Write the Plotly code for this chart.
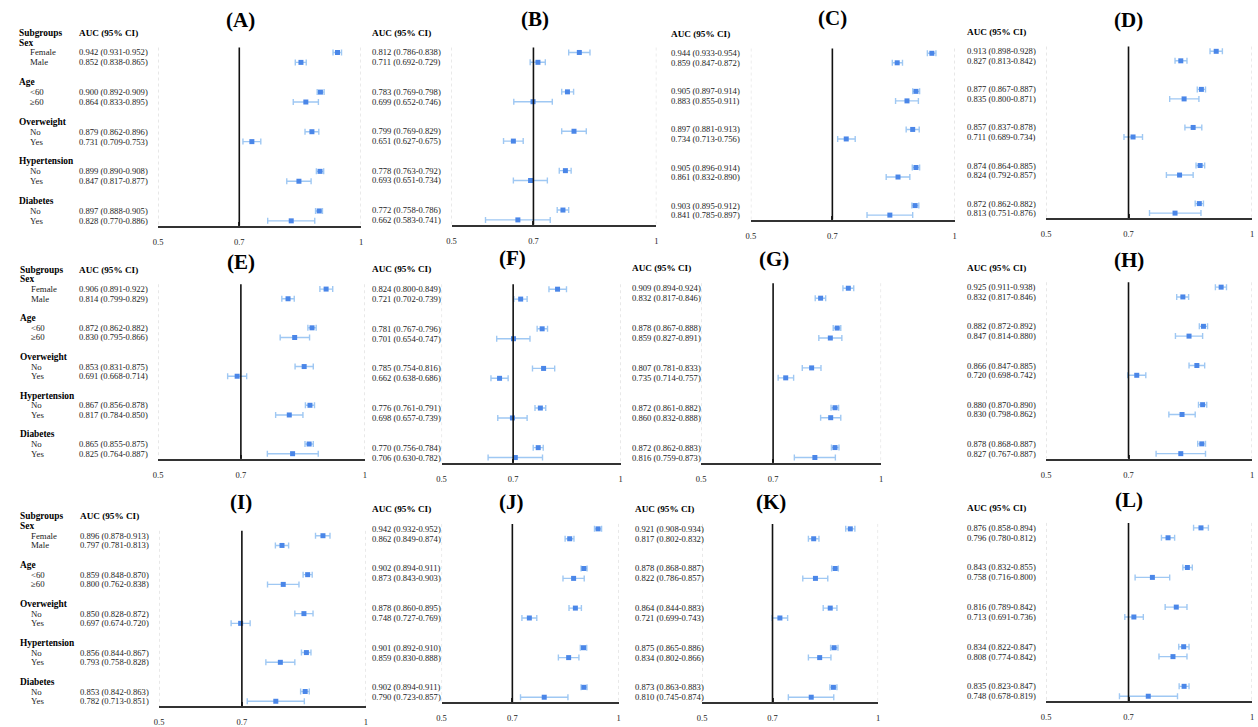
import plotly.graph_objects as go

W, H = 1258, 727

# ---------------- data ----------------
groups = ["Sex", "Age", "Overweight", "Hypertension", "Diabetes"]
levels = [["Female", "Male"], ["<60", "≥60"], ["No", "Yes"], ["No", "Yes"], ["No", "Yes"]]
panel_names = ["A", "B", "C", "D", "E", "F", "G", "H", "I", "J", "K", "L"]
tick_vals = [0.5, 0.7, 1.0]
tick_text = ["0.5", "0.7", "1"]
ref_value = 0.7

A_auc = [0.942, 0.852, 0.900, 0.864, 0.879, 0.731, 0.899, 0.847, 0.897, 0.828]
A_lo = [0.931, 0.838, 0.892, 0.833, 0.862, 0.709, 0.890, 0.817, 0.888, 0.770]
A_hi = [0.952, 0.865, 0.909, 0.895, 0.896, 0.753, 0.908, 0.877, 0.905, 0.886]

B_auc = [0.812, 0.711, 0.783, 0.699, 0.799, 0.651, 0.778, 0.693, 0.772, 0.662]
B_lo = [0.786, 0.692, 0.769, 0.652, 0.769, 0.627, 0.763, 0.651, 0.758, 0.583]
B_hi = [0.838, 0.729, 0.798, 0.746, 0.829, 0.675, 0.792, 0.734, 0.786, 0.741]

C_auc = [0.944, 0.859, 0.905, 0.883, 0.897, 0.734, 0.905, 0.861, 0.903, 0.841]
C_lo = [0.933, 0.847, 0.897, 0.855, 0.881, 0.713, 0.896, 0.832, 0.895, 0.785]
C_hi = [0.954, 0.872, 0.914, 0.911, 0.913, 0.756, 0.914, 0.890, 0.912, 0.897]

D_auc = [0.913, 0.827, 0.877, 0.835, 0.857, 0.711, 0.874, 0.824, 0.872, 0.813]
D_lo = [0.898, 0.813, 0.867, 0.800, 0.837, 0.689, 0.864, 0.792, 0.862, 0.751]
D_hi = [0.928, 0.842, 0.887, 0.871, 0.878, 0.734, 0.885, 0.857, 0.882, 0.876]

E_auc = [0.906, 0.814, 0.872, 0.830, 0.853, 0.691, 0.867, 0.817, 0.865, 0.825]
E_lo = [0.891, 0.799, 0.862, 0.795, 0.831, 0.668, 0.856, 0.784, 0.855, 0.764]
E_hi = [0.922, 0.829, 0.882, 0.866, 0.875, 0.714, 0.878, 0.850, 0.875, 0.887]

F_auc = [0.824, 0.721, 0.781, 0.701, 0.785, 0.662, 0.776, 0.698, 0.770, 0.706]
F_lo = [0.800, 0.702, 0.767, 0.654, 0.754, 0.638, 0.761, 0.657, 0.756, 0.630]
F_hi = [0.849, 0.739, 0.796, 0.747, 0.816, 0.686, 0.791, 0.739, 0.784, 0.782]

G_auc = [0.909, 0.832, 0.878, 0.859, 0.807, 0.735, 0.872, 0.860, 0.872, 0.816]
G_lo = [0.894, 0.817, 0.867, 0.827, 0.781, 0.714, 0.861, 0.832, 0.862, 0.759]
G_hi = [0.924, 0.846, 0.888, 0.891, 0.833, 0.757, 0.882, 0.888, 0.883, 0.873]

H_auc = [0.925, 0.832, 0.882, 0.847, 0.866, 0.720, 0.880, 0.830, 0.878, 0.827]
H_lo = [0.911, 0.817, 0.872, 0.814, 0.847, 0.698, 0.870, 0.798, 0.868, 0.767]
H_hi = [0.938, 0.846, 0.892, 0.880, 0.885, 0.742, 0.890, 0.862, 0.887, 0.887]

I_auc = [0.896, 0.797, 0.859, 0.800, 0.850, 0.697, 0.856, 0.793, 0.853, 0.782]
I_lo = [0.878, 0.781, 0.848, 0.762, 0.828, 0.674, 0.844, 0.758, 0.842, 0.713]
I_hi = [0.913, 0.813, 0.870, 0.838, 0.872, 0.720, 0.867, 0.828, 0.863, 0.851]

J_auc = [0.942, 0.862, 0.902, 0.873, 0.878, 0.748, 0.901, 0.859, 0.902, 0.790]
J_lo = [0.932, 0.849, 0.894, 0.843, 0.860, 0.727, 0.892, 0.830, 0.894, 0.723]
J_hi = [0.952, 0.874, 0.911, 0.903, 0.895, 0.769, 0.910, 0.888, 0.911, 0.857]

K_auc = [0.921, 0.817, 0.878, 0.822, 0.864, 0.721, 0.875, 0.834, 0.873, 0.810]
K_lo = [0.908, 0.802, 0.868, 0.786, 0.844, 0.699, 0.865, 0.802, 0.863, 0.745]
K_hi = [0.934, 0.832, 0.887, 0.857, 0.883, 0.743, 0.886, 0.866, 0.883, 0.874]

L_auc = [0.876, 0.796, 0.843, 0.758, 0.816, 0.713, 0.834, 0.808, 0.835, 0.748]
L_lo = [0.858, 0.780, 0.832, 0.716, 0.789, 0.691, 0.822, 0.774, 0.823, 0.678]
L_hi = [0.894, 0.812, 0.855, 0.800, 0.842, 0.736, 0.847, 0.842, 0.847, 0.819]

series = {
    "A": (A_auc, A_lo, A_hi), "B": (B_auc, B_lo, B_hi), "C": (C_auc, C_lo, C_hi),
    "D": (D_auc, D_lo, D_hi), "E": (E_auc, E_lo, E_hi), "F": (F_auc, F_lo, F_hi),
    "G": (G_auc, G_lo, G_hi), "H": (H_auc, H_lo, H_hi), "I": (I_auc, I_lo, I_hi),
    "J": (J_auc, J_lo, J_hi), "K": (K_auc, K_lo, K_hi), "L": (L_auc, L_lo, L_hi),
}

# ---------------- layout (pixel geometry of each panel) ----------------
# x at 0.5, x at 1, top px, axis px, title x, title y, header x, labels?
geom = {
    "A": (154, 358, 48, 228, 237, 20, 72, True),
    "B": (449, 655, 48, 227, 533, 19, 367, False),
    "C": (750, 955, 49, 222, 832, 18, 668, False),
    "D": (1047, 1254, 47, 220, 1130, 20, 965, False),
    "E": (154, 362, 287, 463, 237, 265, 72, True),
    "F": (439, 619, 287, 467, 510, 261, 367, False),
    "G": (700, 881, 286, 467, 773, 262, 628, False),
    "H": (1047, 1254, 285, 463, 1130, 263, 965, False),
    "I": (155, 363, 536, 713, 237, 507, 73, True),
    "J": (439, 617, 529, 709, 509, 507, 367, False),
    "K": (701, 878, 529, 709, 770, 507, 632, False),
    "L": (1047, 1254, 528, 708, 1130, 505, 965, False),
}

SERIF = "Liberation Serif, Times New Roman, serif"
MARK = "#4a86e8"
ERR = "#9fc8f3"
TXT = "#1a1a1a"

# row positions in axis units (row pitch = 1, gap between groups)
rows = []
for g in range(len(groups)):
    for s in range(2):
        rows.append(0.5 + 4 * g + s)
YMAX = 18
YMIN = -2.5  # room for the header lines above the first row

fig = go.Figure()
layout = dict(width=W, height=H, margin=dict(l=0, r=0, t=0, b=0),
              paper_bgcolor="white", plot_bgcolor="white", showlegend=False,
              font=dict(family=SERIF, color=TXT))
annotations = []
shapes = []

for i, name in enumerate(panel_names):
    n = i + 1
    xa = "x" if n == 1 else f"x{n}"
    ya = "y" if n == 1 else f"y{n}"
    xk = "xaxis" if n == 1 else f"xaxis{n}"
    yk = "yaxis" if n == 1 else f"yaxis{n}"
    x05, x1, top, axis, tx, ty, hx, labels = geom[name]
    auc, lo, hi = series[name]
    unit = (axis - top) / YMAX
    dom_top = top + YMIN * unit

    layout[xk] = dict(domain=[x05 / W, x1 / W], range=[0.5, 1.0], anchor=ya,
                      showgrid=False, zeroline=False, showline=True, linewidth=2,
                      linecolor="#333333", ticks="inside", ticklen=4, tickwidth=1.5,
                      tickcolor="#333333", tickvals=tick_vals, ticktext=tick_text,
                      tickfont=dict(family=SERIF, size=8.5, color=TXT),
                      ticklabelstandoff=7, fixedrange=True)
    layout[yk] = dict(domain=[(H - axis) / H, (H - dom_top) / H], range=[YMAX, YMIN],
                      anchor=xa, visible=False, fixedrange=True)

    # dotted guide lines at the axis ends
    for v in (tick_vals[0], tick_vals[-1]):
        shapes.append(dict(type="line", xref=xa, yref=ya, x0=v, x1=v,
                           y0=0, y1=YMAX, line=dict(color="#d4d4d4", width=1, dash="dot"),
                           layer="below"))
    # reference line
    shapes.append(dict(type="line", xref=xa, yref=ya, x0=ref_value,
                       x1=ref_value, y0=0, y1=YMAX, line=dict(color="#111111", width=1.6)))

    fig.add_trace(go.Scatter(
        x=auc, y=rows, xaxis=xa, yaxis=ya, mode="markers",
        marker=dict(symbol="square", size=5, color=MARK, line=dict(width=0)),
        error_x=dict(type="data", symmetric=False,
                     array=[h - a for a, h in zip(auc, hi)],
                     arrayminus=[a - l for a, l in zip(auc, lo)],
                     color=ERR, thickness=1.4, width=3),
        cliponaxis=False, hoverinfo="skip"))

    # panel title
    annotations.append(dict(text=f"<b>({name})</b>", xref="paper", yref="paper",
                            x=tx / W, y=1 - ty / H, xanchor="center", yanchor="middle",
                            showarrow=False, font=dict(family=SERIF, size=21, color="#000")))
    # header
    annotations.append(dict(text="<b>AUC (95% CI)</b>", xref="paper", yref=ya,
                            x=hx / W, y=rows[0] - 2, xanchor="left", yanchor="middle",
                            showarrow=False, font=dict(family=SERIF, size=9.2, color="#000")))
    # values
    for r, a, l, h in zip(rows, auc, lo, hi):
        annotations.append(dict(text=f"{a:.3f} ({l:.3f}-{h:.3f})", xref="paper", yref=ya,
                                x=hx / W, y=r, xanchor="left", yanchor="middle",
                                showarrow=False, font=dict(family=SERIF, size=8.6, color=TXT)))
    if labels:
        lx = 12 if name == "A" else 13
        annotations.append(dict(text="<b>Subgroups</b>", xref="paper", yref=ya,
                                x=lx / W, y=rows[0] - 2, xanchor="left", yanchor="middle",
                                showarrow=False, font=dict(family=SERIF, size=9.4, color="#000")))
        for g, grp in enumerate(groups):
            annotations.append(dict(text=f"<b>{grp}</b>", xref="paper", yref=ya,
                                    x=lx / W, y=rows[2 * g] - 1, xanchor="left",
                                    yanchor="middle", showarrow=False,
                                    font=dict(family=SERIF, size=9.4, color="#000")))
            for s in range(2):
                annotations.append(dict(text=levels[g][s], xref="paper", yref=ya,
                                        x=(lx + 11) / W, y=rows[2 * g + s],
                                        xanchor="left", yanchor="middle", showarrow=False,
                                        font=dict(family=SERIF, size=8.8, color=TXT)))

layout["annotations"] = annotations
layout["shapes"] = shapes
fig.update_layout(**layout)
fig.write_html("out.html", config={"displayModeBar": False},
               post_script="document.body.style.margin='0px';")
